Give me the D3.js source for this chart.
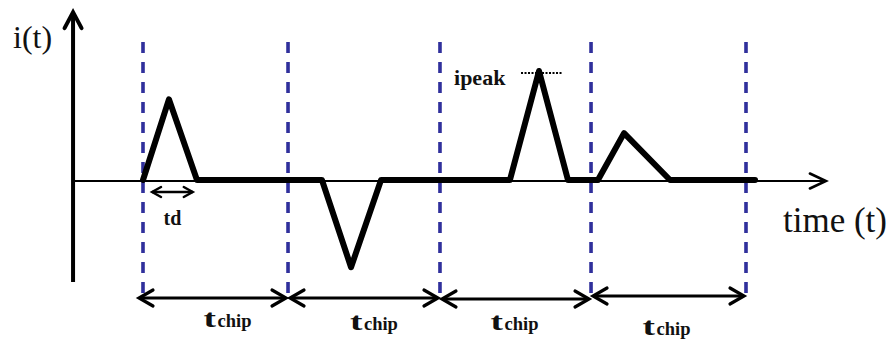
<!DOCTYPE html>
<html><head><meta charset="utf-8">
<script src="https://cdn.jsdelivr.net/npm/d3@7"></script>
<style>html,body{margin:0;padding:0;background:#fff}svg{display:block}</style>
</head><body>
<script>
// ---- data (arbitrary time units: one chip ≈ 1) ----
const chipBounds = [0, 0.962, 1.970, 2.972, 4.0];
const chipLabels = ["t", "t", "t", "t"];
const waveT = [0, 0.172, 0.358, 0.962, 1.187, 1.380, 1.579, 2.434, 2.627, 2.819, 3.018, 3.191, 3.496, 4.06];
const waveI = [0, 0.74, 0, 0, 0, -0.80, 0, 0, 1.0, 0, 0, 0.43, 0, 0];
const tAxisExtent = [-0.464, 4.53];
const iAxisExtent = [-0.936, 1.54];
const tdSpan = [0.06, 0.33];
const peakIndex = 8;

// ---- layout ----
const FONT = "'Liberation Serif', 'Times New Roman', serif";
const W = 891, H = 345;
const x = d3.scaleLinear().domain([0, 4]).range([143, 746]);
const y = d3.scaleLinear().domain([0, 1]).range([180, 71]);
const svg = d3.select("body").append("svg").attr("width", W).attr("height", H);
svg.append("rect").attr("width", W).attr("height", H).attr("fill", "#fff");

function chevron(g, tx, ty, dx, dy, len, half, sw) {
  const px = -dy, py = dx;
  const bx = tx - dx * len, by = ty - dy * len;
  g.append("path")
    .attr("d", `M${bx + px * half},${by + py * half}L${tx},${ty}L${bx - px * half},${by - py * half}`)
    .attr("fill", "none").attr("stroke", "#000").attr("stroke-width", sw)
    .attr("stroke-linejoin", "miter").attr("stroke-linecap", "round");
}
function txt(g) { return g.append("text").style("font-family", FONT).attr("fill", "#111"); }

// dashed chip boundaries
svg.selectAll("line.chip").data(chipBounds).join("line")
  .attr("class", "chip")
  .attr("x1", d => x(d)).attr("x2", d => x(d))
  .attr("y1", 42).attr("y2", 302)
  .attr("stroke", "#30309c").attr("stroke-width", 3.6)
  .attr("stroke-dasharray", "11,9");

// axes
const ax = svg.append("g");
const x0 = x(tAxisExtent[0]), y0 = y(0);
ax.append("line").attr("x1", x0).attr("x2", x(tAxisExtent[1]) - 1).attr("y1", y0 + 1).attr("y2", y0 + 1)
  .attr("stroke", "#000").attr("stroke-width", 2.2);
chevron(ax, x(tAxisExtent[1]), y0 + 1, 1, 0, 16, 7.5, 2.6);
ax.append("line").attr("x1", x0).attr("x2", x0).attr("y1", y(iAxisExtent[0])).attr("y2", y(iAxisExtent[1]) + 1)
  .attr("stroke", "#000").attr("stroke-width", 4);
chevron(ax, x0, y(iAxisExtent[1]), 0, -1, 16, 8.5, 4);

// waveform
const pts = waveT.map((t, i) => [t, waveI[i]]);
svg.append("path")
  .attr("d", d3.line().x(d => x(d[0])).y(d => y(d[1]))(pts))
  .attr("fill", "none").attr("stroke", "#000").attr("stroke-width", 6)
  .attr("stroke-linejoin", "round").attr("stroke-linecap", "round");

// ipeak dotted line
const pk = pts[peakIndex];
svg.append("line").attr("x1", x(pk[0]) - 18).attr("x2", x(pk[0]) + 24)
  .attr("y1", y(pk[1]) + 2).attr("y2", y(pk[1]) + 2)
  .attr("stroke", "#000").attr("stroke-width", 2).attr("stroke-dasharray", "2,1.5");
txt(svg).attr("x", x(pk[0]) - 85).attr("y", 85)
  .attr("font-weight", "bold").attr("font-size", 22).text("ipeak");

// td arrow
const tdg = svg.append("g");
const tdY = 192;
tdg.append("line").attr("x1", x(tdSpan[0])).attr("x2", x(tdSpan[1])).attr("y1", tdY).attr("y2", tdY)
  .attr("stroke", "#000").attr("stroke-width", 2.4);
chevron(tdg, x(tdSpan[0]), tdY, -1, 0, 9, 5, 2.4);
chevron(tdg, x(tdSpan[1]), tdY, 1, 0, 9, 5, 2.4);
txt(tdg).attr("x", (x(tdSpan[0]) + x(tdSpan[1])) / 2).attr("y", 225)
  .attr("text-anchor", "middle").attr("font-weight", "bold").attr("font-size", 20).text("td");

// tchip arrows
const labelNudge = [13, 11, 0, -1];
const labelBase = [327, 330, 330, 335];
const arrowY = [298, 298, 299, 296];
for (let k = 0; k < chipBounds.length - 1; k++) {
  const a = x(chipBounds[k]) + (k === 0 ? -4 : 2), b = x(chipBounds[k + 1]) - 2;
  const g = svg.append("g");
  g.append("line").attr("x1", a + 1).attr("x2", b - 1).attr("y1", arrowY[k]).attr("y2", arrowY[k])
    .attr("stroke", "#000").attr("stroke-width", 3);
  chevron(g, a, arrowY[k], -1, 0, 14, 8, 3.2);
  chevron(g, b, arrowY[k], 1, 0, 14, 8, 3.2);
  const cx = (x(chipBounds[k]) + x(chipBounds[k + 1])) / 2 + labelNudge[k];
  const tx = cx - 25;
  txt(g).attr("transform", `translate(${tx},${labelBase[k]}) scale(1.5,1)`)
    .attr("font-weight", "bold").attr("font-size", 25).text(chipLabels[k]);
  txt(g).attr("x", tx + 14).attr("y", labelBase[k])
    .attr("font-weight", "bold").attr("font-size", 18.5).text("chip");
}

// axis labels
txt(svg).attr("x", 13).attr("y", 48).attr("font-size", 32).text("i(t)");
txt(svg).attr("x", 783).attr("y", 232).attr("font-size", 35).text("time (t)");
</script>
</body></html>
